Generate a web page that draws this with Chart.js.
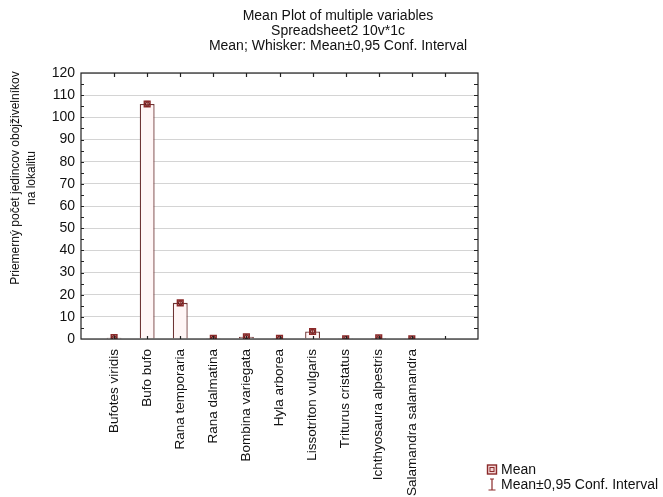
<!DOCTYPE html>
<html>
<head>
<meta charset="utf-8">
<script src="https://cdn.jsdelivr.net/npm/chart.js@4"></script>
<style>
  html, body { margin: 0; padding: 0; background: #fff; }
  #wrap { position: relative; width: 663px; height: 497px; }
  #title { position: absolute; left: 138px; width: 400px; top: 8px; text-align: center; font: 14px "Liberation Sans", Arial, sans-serif; color: #111; line-height: 15px; }
  #ytitle { position: absolute; left: 23px; top: 178px; width: 300px; margin-left: -150px; margin-top: -16px; transform: rotate(-90deg);
    text-align: center; font: 12px "Liberation Sans", Arial, sans-serif; color: #111; line-height: 16px; }
  #legend { position: absolute; left: 486px; top: 462px; font: 14px "Liberation Sans", Arial, sans-serif; color: #111; line-height: 15px; }
  #legend div { display: flex; align-items: center; white-space: nowrap; }
  #legend svg { margin-right: 3px; }
</style>
</head>
<body>
<div id="wrap">
  <canvas id="c" width="663" height="497"></canvas>
  <div id="title"></div>
  <div id="ytitle"></div>
  <div id="legend">
    <div><svg width="12" height="13"><rect x="1.5" y="2" width="9" height="9" fill="#f3d6d6" stroke="#8b2a2a" stroke-width="1.4"/><rect x="4" y="4.5" width="4" height="4" fill="none" stroke="#8b2a2a" stroke-width="1"/></svg>Mean</div>
    <div><svg width="12" height="13"><path d="M6 1 V12 M2.5 12 H9.5" stroke="#8b2a2a" stroke-width="1.2" fill="none"/><path d="M4 1 H8" stroke="#8b2a2a" stroke-width="1"/></svg>Mean±0,95 Conf. Interval</div>
  </div>
</div>
<script>
  const species = ['Bufotes viridis', 'Bufo bufo', 'Rana temporaria', 'Rana dalmatina', 'Bombina variegata',
    'Hyla arborea', 'Lissotriton vulgaris', 'Triturus cristatus', 'Ichthyosaura alpestris', 'Salamandra salamandra'];
  const means = [0.6, 106, 16.3, 0.3, 1.0, 0.3, 3.4, 0.1, 0.5, 0.1];
  const ciHalf = [0.3, 1.2, 0.9, 0.2, 0.5, 0.2, 0.9, 0.1, 0.3, 0.1];
  const yTitle = ['Priemerný počet jedincov obojživelníkov', 'na lokalitu'];
  const titleLines = ['Mean Plot of multiple variables', 'Spreadsheet2 10v*1c', 'Mean; Whisker: Mean±0,95 Conf. Interval'];

  const lines = a => a.map(t => '<div>' + t + '</div>').join('');
  document.getElementById('title').innerHTML = lines(titleLines);
  document.getElementById('ytitle').innerHTML = lines(yTitle);

  const FONT = '"Liberation Sans", Arial, sans-serif';
  const MARK = '#8b2a2a';
  const pts = means.map((m, i) => ({ x: i + 1, y: m }));

  // inward frame ticks + whiskers, like the Statistica plot
  const frame = {
    id: 'frame',
    afterDatasetsDraw(chart) {
      const { ctx, chartArea: a, scales: { x, y } } = chart;
      ctx.save();
      ctx.strokeStyle = MARK; ctx.lineWidth = 1;
      means.forEach((m, i) => {
        const px = x.getPixelForValue(i + 1);
        const t = y.getPixelForValue(m + ciHalf[i]), b = y.getPixelForValue(Math.max(0, m - ciHalf[i]));
        ctx.beginPath();
        ctx.moveTo(px, t); ctx.lineTo(px, b);
        ctx.moveTo(px - 2, t); ctx.lineTo(px + 2, t);
        ctx.stroke();
      });
      ctx.strokeStyle = '#222'; ctx.lineWidth = 1.2;
      ctx.strokeRect(a.left, a.top, a.right - a.left, a.bottom - a.top);
      ctx.beginPath();
      for (let v = 1; v <= 11; v++) {
        const px = Math.round(x.getPixelForValue(v)) + 0.5;
        ctx.moveTo(px, a.top); ctx.lineTo(px, a.top + 4);
        ctx.moveTo(px, a.bottom); ctx.lineTo(px, a.bottom - 3);
      }
      for (let v = 5; v < 120; v += 5) {
        const py = Math.round(y.getPixelForValue(v)) + 0.5;
        ctx.moveTo(a.left, py); ctx.lineTo(a.left + 3, py);
        ctx.moveTo(a.right, py); ctx.lineTo(a.right - 4, py);
      }
      ctx.stroke();
      ctx.restore();
    }
  };

  new Chart(document.getElementById('c'), {
    data: {
      datasets: [
        { type: 'bar', data: pts, backgroundColor: '#fff6f6', borderColor: '#6e3434', borderWidth: 1.3,
          barPercentage: 0.45, categoryPercentage: 1, order: 3 },
        { type: 'scatter', data: pts, pointStyle: 'rect', radius: 4, borderColor: MARK, borderWidth: 1.5,
          backgroundColor: 'rgba(200,120,120,0.5)', clip: 0, order: 1 },
        { type: 'scatter', data: pts, pointStyle: 'circle', radius: 2, borderColor: '#5a1010', borderWidth: 1,
          backgroundColor: 'rgba(0,0,0,0)', clip: 0, order: 0 }
      ]
    },
    options: {
      responsive: false, animation: false,
      layout: { padding: { right: 185, top: 73 } },
      plugins: {
        legend: { display: false }, tooltip: { enabled: false }, title: { display: false }
      },
      scales: {
        x: {
          type: 'linear', min: 0, max: 12, offset: false,
          grid: { display: false },
          border: { display: false },
          afterFit(s) { s.height = 158; },
          ticks: { stepSize: 1, autoSkip: false, minRotation: 90, maxRotation: 90, padding: 2, color: '#111',
            font: { family: FONT, size: 13.5 },
            callback: v => species[v - 1] || '' }
        },
        y: {
          min: 0, max: 120,
          afterFit(s) { s.width = 81; },
          border: { display: false },
          grid: { color: '#d4d4d4', lineWidth: 1, drawTicks: false },
          ticks: { stepSize: 5, padding: 6, color: '#111', font: { family: FONT, size: 14 },
            callback: v => v % 10 === 0 ? v : '' }
        }
      }
    },
    plugins: [frame]
  });
</script>
</body>
</html>
